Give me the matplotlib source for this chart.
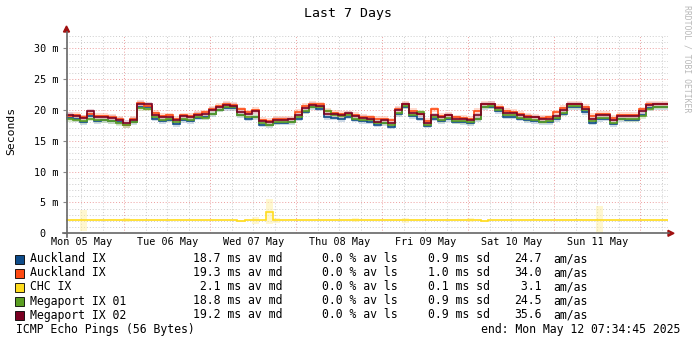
import numpy as np
import matplotlib
matplotlib.use("Agg")
import matplotlib.pyplot as plt
from matplotlib.lines import Line2D
from matplotlib.patches import Rectangle, Polygon

W, H = 697, 343
MONO = "DejaVu Sans Mono"

# 2-hour medians, starting Mon 05 May 07:34:45 (hours since Mon 00:00)
t_start = 7.579
step_h = 2.0

names = ["Auckland IX", "Auckland IX", "CHC IX", "Megaport IX 01", "Megaport IX 02"]
colors = ["#0f4c8a", "#ff4a12", "#ffdc1e", "#5a9e22", "#7a0022"]
smoke_colors = ["#9fb7d0", "#ffb9a0", "#fff0a0", "#b9d8a0", "#d6a0b0"]

akl1 = [18.7, 18.5, 18.0, 19.0, 18.2, 18.3, 18.2, 18.0, 17.5, 18.0, 20.5, 20.4, 18.6, 18.2,
        18.4, 17.7, 18.3, 18.2, 18.7, 18.8, 19.3, 20.0, 20.3, 20.3, 19.1, 18.6, 18.8, 17.6,
        17.5, 17.9, 17.9, 18.0, 18.6, 19.7, 20.4, 20.2, 18.8, 18.7, 18.5, 18.9, 18.4, 18.2,
        18.1, 17.6, 17.8, 17.3, 19.3, 20.5, 19.0, 18.6, 17.4, 18.6, 18.2, 18.5, 18.1, 18.0,
        17.8, 18.5, 20.4, 20.5, 19.8, 18.9, 18.9, 18.6, 18.3, 18.2, 18.0, 18.0, 18.5, 19.4,
        20.4, 20.4, 19.6, 17.9, 18.5, 18.6, 17.7, 18.5, 18.4, 18.4, 19.2, 20.3, 20.4, 20.4]
akl2 = [19.0, 19.2, 18.8, 19.4, 19.0, 19.0, 18.9, 18.5, 17.6, 18.6, 21.1, 20.6, 19.5, 19.0,
        19.1, 18.6, 19.1, 19.0, 19.4, 19.6, 20.2, 20.6, 21.0, 20.8, 20.1, 19.6, 20.0, 18.4,
        18.2, 18.5, 18.6, 18.6, 19.7, 20.6, 21.0, 20.9, 19.8, 19.5, 19.3, 19.4, 19.2, 18.9,
        18.8, 18.5, 18.5, 18.3, 20.2, 21.0, 19.8, 19.4, 18.2, 20.1, 19.0, 19.2, 18.8, 18.7,
        18.5, 19.8, 21.0, 21.0, 20.5, 19.8, 19.7, 19.3, 19.0, 18.9, 18.7, 18.8, 19.6, 20.3,
        21.0, 21.0, 20.5, 19.0, 19.3, 19.3, 18.7, 19.2, 19.2, 19.2, 20.1, 21.0, 21.0, 21.0]
chc = [2.1, 2.1, 2.1, 2.1, 2.1, 2.1, 2.2, 2.1, 2.2, 2.1, 2.1, 2.1, 2.1, 2.1,
       2.1, 2.2, 2.1, 2.1, 2.1, 2.1, 2.1, 2.1, 2.1, 2.1, 2.0, 2.1, 2.1, 2.1,
       3.5, 2.1, 2.1, 2.2, 2.1, 2.1, 2.1, 2.1, 2.1, 2.1, 2.1, 2.1, 2.1, 2.1,
       2.1, 2.1, 2.1, 2.1, 2.1, 2.1, 2.1, 2.1, 2.1, 2.1, 2.1, 2.1, 2.1, 2.1,
       2.1, 2.1, 2.0, 2.1, 2.1, 2.1, 2.1, 2.1, 2.1, 2.2, 2.1, 2.1, 2.1, 2.1,
       2.1, 2.2, 2.1, 2.1, 2.1, 2.1, 2.1, 2.1, 2.1, 2.1, 2.1, 2.1, 2.1, 2.1]
mp1 = [18.5, 18.4, 18.2, 18.6, 18.3, 18.3, 18.2, 17.8, 17.5, 18.1, 20.3, 20.2, 18.9, 18.4,
       18.5, 18.0, 18.6, 18.4, 18.9, 18.7, 19.4, 20.0, 20.5, 20.4, 19.2, 18.8, 18.9, 17.8,
       17.6, 18.0, 18.1, 18.1, 18.8, 19.8, 20.5, 20.4, 19.8, 19.2, 19.0, 19.1, 18.6, 18.4,
       18.3, 17.9, 17.9, 17.6, 19.5, 20.6, 19.2, 19.6, 17.6, 18.8, 18.3, 18.7, 18.2, 18.2,
       18.0, 18.6, 20.5, 20.6, 20.0, 19.2, 19.1, 18.7, 18.5, 18.4, 18.1, 18.2, 18.7, 19.5,
       20.6, 20.6, 20.0, 18.2, 18.7, 18.7, 17.9, 18.6, 18.5, 18.5, 19.0, 20.2, 20.5, 20.5]
mp2 = [19.2, 19.0, 18.7, 19.8, 18.8, 18.8, 18.7, 18.4, 17.9, 18.4, 21.0, 20.9, 19.2, 18.8,
       18.9, 18.3, 19.0, 18.8, 19.2, 19.3, 20.0, 20.4, 20.8, 20.7, 19.7, 19.3, 19.8, 18.2,
       18.0, 18.4, 18.4, 18.5, 19.2, 20.3, 20.8, 20.6, 19.4, 19.3, 19.1, 19.5, 19.0, 18.7,
       18.6, 18.1, 18.3, 17.8, 20.0, 20.9, 19.5, 19.3, 17.9, 19.1, 18.8, 19.1, 18.6, 18.5,
       18.3, 19.1, 20.9, 21.0, 20.3, 19.5, 19.5, 19.1, 18.9, 18.8, 18.6, 18.6, 19.0, 20.0,
       20.9, 20.9, 20.2, 18.5, 19.1, 19.1, 18.3, 19.0, 19.0, 19.0, 19.8, 20.8, 20.9, 20.9]
# occasional wide spread on the CHC probes
chc_spread = [0.1, 0.1, 1.7, 0.1, 0.1, 0.1, 0.1, 0.1, 0.3, 0.1, 0.1, 0.1, 0.1, 0.1,
              0.1, 0.1, 0.1, 0.1, 0.1, 0.1, 0.1, 0.1, 0.1, 0.1, 0.1, 0.1, 0.6, 0.1,
              2.0, 0.4, 0.1, 0.1, 0.1, 0.1, 0.1, 0.1, 0.1, 0.1, 0.1, 0.1, 0.3, 0.1,
              0.1, 0.1, 0.1, 0.1, 0.1, 0.4, 0.1, 0.1, 0.1, 0.1, 0.1, 0.1, 0.1, 0.1,
              0.3, 0.1, 0.1, 0.1, 0.1, 0.1, 0.1, 0.1, 0.1, 0.1, 0.1, 0.1, 0.1, 0.1,
              0.1, 0.1, 0.1, 0.1, 2.4, 0.1, 0.1, 0.1, 0.1, 0.1, 0.1, 0.1, 0.1, 0.1]

med = [18.7, 19.3, 2.1, 18.8, 19.2]
loss = [0.0, 0.0, 0.0, 0.0, 0.0]
sd = [0.9, 1.0, 0.1, 0.9, 0.9]
amas = [24.7, 34.0, 3.1, 24.5, 35.6]

day_labels = ["Mon 05 May", "Tue 06 May", "Wed 07 May", "Thu 08 May",
              "Fri 09 May", "Sat 10 May", "Sun 11 May"]
y_ticks = [0, 5, 10, 15, 20, 25, 30]
y_labels = ["0  ", "5 m", "10 m", "15 m", "20 m", "25 m", "30 m"]

series = [akl1, akl2, chc, mp1, mp2]
edges = t_start + step_h * np.arange(len(mp2) + 1)


def fx(x):
    return x / W


def fy(y):
    return 1 - y / H


fig = plt.figure(figsize=(W / 100, H / 100), dpi=100)
ax = fig.add_axes([fx(65.5), fy(233.3), 602 / W, 197.4 / H])
ax.set_xlim(edges[0], edges[-1])
ax.set_ylim(0, 32)

# grid: grey every 6 h / 1 ms, red every day / 5 ms
minor_c = (0.8, 0.8, 0.8)
major_c = (0.93, 0.62, 0.62)
for h in np.arange(6, 180, 6):
    if edges[0] < h < edges[-1]:
        ax.axvline(h, color=major_c if h % 24 == 0 else minor_c,
                   lw=0.7, ls=(0, (1, 2)), zorder=0)
for v in range(1, 33):
    ax.axhline(v, color=major_c if v % 5 == 0 else minor_c,
               lw=0.7, ls=(0, (1, 2)), zorder=0)

# smoke bands
for i, vals in enumerate(series):
    vals = np.array(vals)
    spread = np.array(chc_spread) if i == 2 else sd[i] * 0.45
    ax.stairs(vals + spread, edges, baseline=vals - spread, fill=True,
              color=smoke_colors[i], alpha=0.5, lw=0, zorder=1)
for i, vals in enumerate(series):
    ax.stairs(vals, edges, baseline=None, color=colors[i], lw=1.2, zorder=2)

for s in ax.spines.values():
    s.set_visible(False)
ax.set_xticks([12 + 24 * k for k in range(7)])
ax.set_xticklabels(day_labels, fontfamily=MONO, fontsize=7.3)
ax.set_yticks(y_ticks)
ax.set_yticklabels(y_labels, fontfamily=MONO, fontsize=7.3)
ax.tick_params(axis="x", length=0, pad=3)
ax.tick_params(axis="y", length=2, width=0.8, color="#888888", pad=3)

# axes with arrows
axc = "#666666"
arr = "#a01010"
fig.add_artist(Line2D([fx(66.5), fx(66.5)], [fy(237), fy(32)], color=axc, lw=1.2,
                      transform=fig.transFigure))
fig.add_artist(Line2D([fx(63), fx(669)], [fy(233.3), fy(233.3)], color=axc, lw=1.2,
                      transform=fig.transFigure))
fig.add_artist(Polygon([(fx(63.5), fy(32)), (fx(69.5), fy(32)), (fx(66.5), fy(26))],
                       closed=True, color=arr, transform=fig.transFigure))
fig.add_artist(Polygon([(fx(668), fy(230.3)), (fx(668), fy(236.3)), (fx(674), fy(233.3))],
                       closed=True, color=arr, transform=fig.transFigure))

fig.text(fx(348), fy(14), "Last 7 Days", fontfamily=MONO, fontsize=9.5,
         ha="center", va="center")
fig.text(fx(11), fy(131), "Seconds", fontfamily=MONO, fontsize=8.2,
         rotation=90, ha="center", va="center")
fig.text(fx(687), fy(5), "RRDTOOL / TOBI OETIKER", fontfamily=MONO, fontsize=5.9,
         rotation=270, ha="center", va="top", color="#b8b8b8")

# legend rows
for i in range(5):
    yc = 259 + 14 * i
    fig.add_artist(Rectangle((fx(15), fy(yc + 4.5)), 9 / W, 9 / H, facecolor=colors[i],
                             edgecolor="black", lw=0.6, transform=fig.transFigure))
    fig.text(fx(30), fy(yc), names[i], fontfamily=MONO, fontsize=8.3, va="center")
    fig.text(fx(193), fy(yc), f"{med[i]:4.1f} ms av md", fontfamily=MONO,
             fontsize=8.3, va="center")
    fig.text(fx(322), fy(yc), f"{loss[i]:.1f} % av ls", fontfamily=MONO,
             fontsize=8.3, va="center")
    fig.text(fx(428), fy(yc), f"{sd[i]:.1f} ms sd", fontfamily=MONO,
             fontsize=8.3, va="center")
    fig.text(fx(514), fy(yc), f"{amas[i]:4.1f}", fontfamily=MONO,
             fontsize=8.3, va="center")
    fig.text(fx(553), fy(yc), "am/as", fontfamily=MONO, fontsize=8.3, va="center")

fig.text(fx(16), fy(329), "ICMP Echo Pings (56 Bytes)", fontfamily=MONO,
         fontsize=8.3, va="center")
fig.text(fx(680), fy(329), "end: Mon May 12 07:34:45 2025", fontfamily=MONO,
         fontsize=8.3, va="center", ha="right")

fig.savefig("out.png", dpi=100)
